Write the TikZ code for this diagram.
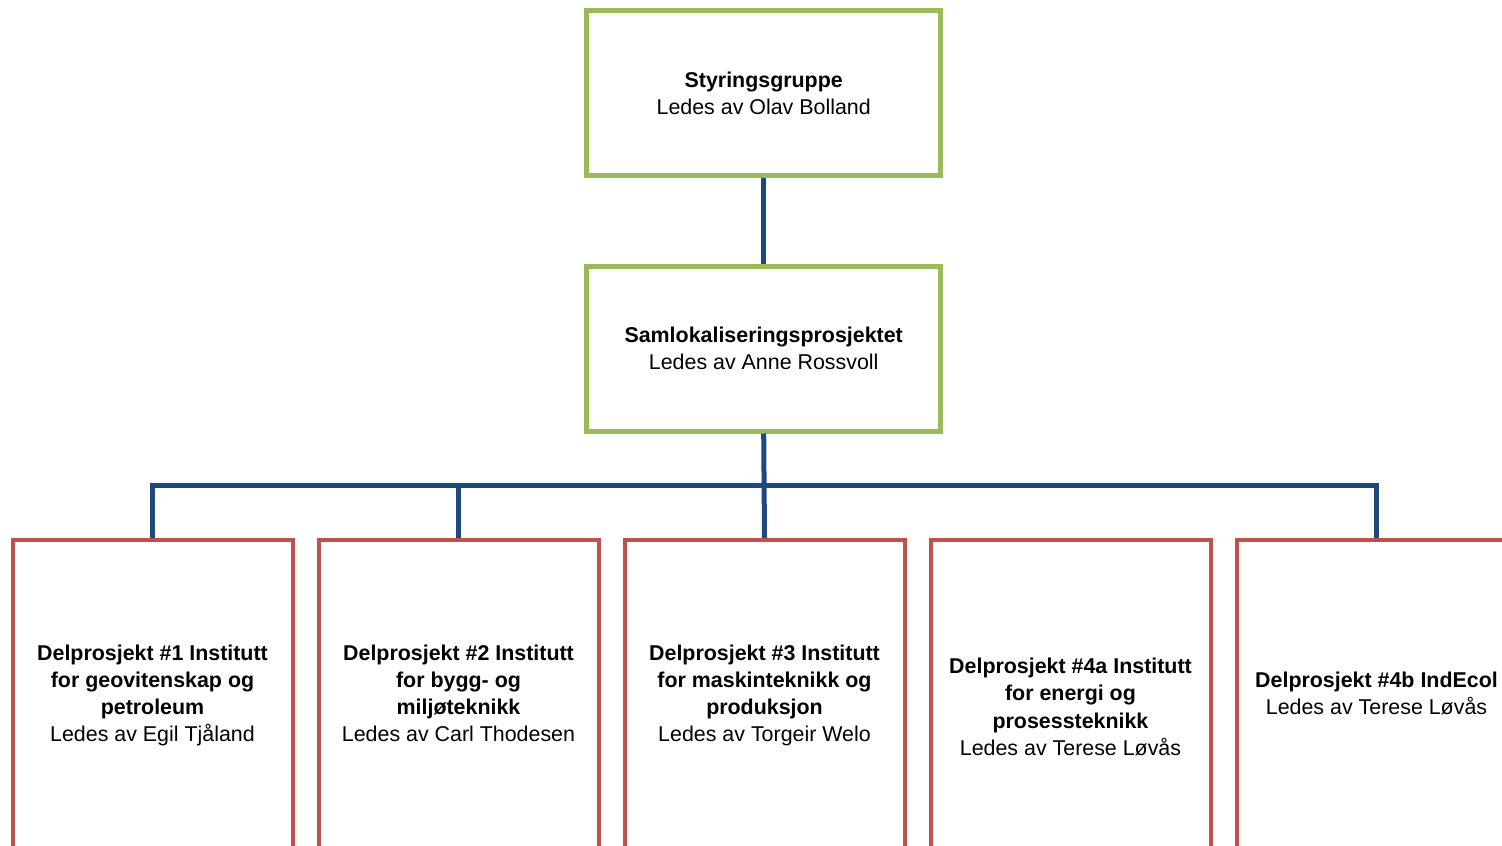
\documentclass[tikz,border=0pt]{standalone}
\usepackage{fontspec}
\setmainfont{Liberation Sans}
\definecolor{boxgreen}{HTML}{9BBB59}
\definecolor{boxred}{HTML}{C0504D}
\definecolor{linkblue}{HTML}{1F497D}
\begin{document}
\begin{tikzpicture}[x=1pt,y=-1pt,
  topbox/.style={draw=boxgreen,line width=5pt,minimum width=354pt,minimum height=165pt,inner sep=0pt},
  subbox/.style={draw=boxred,line width=4pt,minimum width=280pt,minimum height=330pt,inner sep=0pt,anchor=north},
  label/.style={align=center,font=\fontsize{21.4}{27.2}\selectfont,inner sep=0pt},
  conn/.style={draw=linkblue,line width=5pt}]
\useasboundingbox (0,0) rectangle (1502,846);
\clip (0,0) rectangle (1502,846);
\node[topbox] (top) at (763.7,93.3) {};
\node[topbox] (mid) at (763.7,348.5) {};
\node[subbox] (b1) at (152.5,538) {};
\node[subbox] (b2) at (458.5,538) {};
\node[subbox] (b3) at (764.5,538) {};
\node[subbox] (b4) at (1070.5,538) {};
\node[subbox] (b5) at (1376.5,538) {};
\node[label] (ttop) at (763.7,95.3) {\strut\textbf{Styringsgruppe}\\Ledes av Olav Bolland\strut};
\node[label] (tmid) at (763.7,350.5) {\strut\textbf{Samlokaliseringsprosjektet}\\Ledes av Anne Rossvoll\strut};
\node[label] (t1) at (152.5,695.5) {\strut\textbf{Delprosjekt \#1 Institutt}\\\textbf{for geovitenskap og}\\\textbf{petroleum}\\Ledes av Egil Tjåland\strut};
\node[label] (t2) at (458.5,695.5) {\strut\textbf{Delprosjekt \#2 Institutt}\\\textbf{for bygg- og}\\\textbf{miljøteknikk}\\Ledes av Carl Thodesen\strut};
\node[label] (t3) at (764.5,695.5) {\strut\textbf{Delprosjekt \#3 Institutt}\\\textbf{for maskinteknikk og}\\\textbf{produksjon}\\Ledes av Torgeir Welo\strut};
\node[label] (t4) at (1070.5,709) {\strut\textbf{Delprosjekt \#4a Institutt}\\\textbf{for energi og}\\\textbf{prosessteknikk}\\Ledes av Terese Løvås\strut};
\node[label] (t5) at (1376.5,695.5) {\strut\textbf{Delprosjekt \#4b IndEcol}\\Ledes av Terese Løvås\strut};
\coordinate (bus) at (764,485.5);
\draw[conn] (top.south) -- (mid.north);
\draw[conn] (mid.south) -- (b3.north);
\draw[conn] (b1.north) |- (bus) -| (b5.north);
\draw[conn] (b2.north) -- (b2.north |- bus);
\end{tikzpicture}
\end{document}
